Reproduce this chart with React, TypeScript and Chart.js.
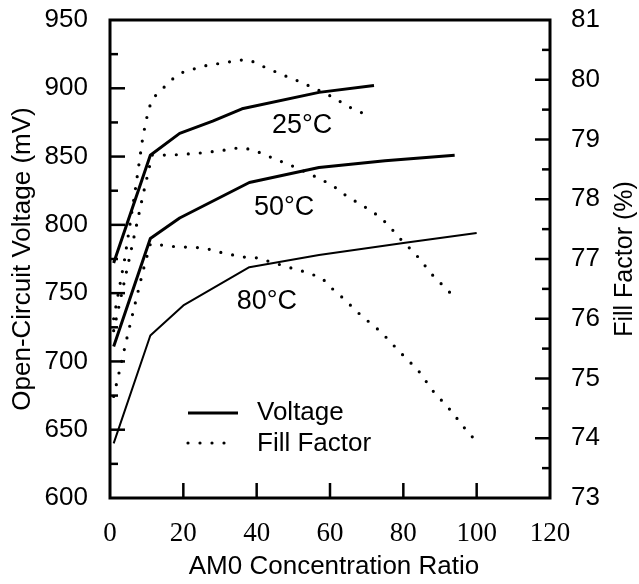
import { useEffect, useRef } from "react";
import { Chart, registerables } from "chart.js";

Chart.register(...registerables);

// ---- axis ranges ----
const X_MIN = 0, X_MAX = 120, X_STEP = 20;
const V_MIN = 600, V_MAX = 950, V_STEP = 50, V_MINOR = 25;
const FF_MIN = 73, FF_MAX = 81, FF_STEP = 1, FF_MINOR = 0.5;

// ---- titles / labels ----
const X_TITLE = "AM0 Concentration Ratio";
const V_TITLE = "Open-Circuit Voltage (mV)";
const FF_TITLE = "Fill Factor (%)";
const LEGEND_LABELS = ["Voltage", "Fill Factor"];
const TEMP_LABELS = ["25°C", "50°C", "80°C"];
const TEMP_LABEL_X = [52.4, 47.5, 42.8];
const TEMP_LABEL_V = [873, 813, 743.5];

// ---- Open-circuit voltage (mV) ----
const V25_X = [1, 11, 19, 28, 36, 57, 72];
const V25_Y = [772, 851, 867, 876, 885, 897, 902];
const V50_X = [1, 11, 19, 38, 57, 75, 94];
const V50_Y = [711, 790, 805, 831, 842, 847, 851];
const V80_X = [1, 11, 20, 38, 57, 81, 100];
const V80_Y = [640, 719, 741, 769, 778, 787, 794];

// ---- Fill factor (%) ----
const F25_X = [1, 4, 7, 9, 10.5, 11.7, 14.5, 17, 20, 24, 27, 31, 35, 38, 41.5, 44.5, 48, 51.3, 56, 61.4, 64.6, 67.6, 71];
const F25_Y = [76.0, 77.0, 78.2, 79.06, 79.5, 79.69, 79.86, 80.01, 80.13, 80.2, 80.25, 80.28, 80.33, 80.33, 80.23, 80.15, 80.06, 79.98, 79.85, 79.69, 79.56, 79.48, 79.38];
const F50_X = [1, 5, 9, 11.5, 17, 24, 30, 35, 38, 41.8, 45, 48.5, 51.8, 58.3, 61.6, 64.6, 70.9, 73.9, 76.6, 78.5, 83.5, 88, 93.3];
const F50_Y = [75.8, 76.93, 78.07, 78.74, 78.74, 78.77, 78.81, 78.86, 78.84, 78.76, 78.67, 78.59, 78.5, 78.31, 78.19, 78.05, 77.82, 77.69, 77.52, 77.38, 77.07, 76.73, 76.4];
const F80_X = [1, 5, 9, 11, 14.5, 18.5, 22.3, 26, 29.5, 33.3, 36.8, 40, 45, 50.5, 54, 57.8, 60.5, 63.3, 68.4, 73.9, 78.8, 84, 88.1, 93, 97.6, 100.4];
const F80_Y = [74.7, 75.78, 76.8, 77.25, 77.23, 77.2, 77.2, 77.18, 77.12, 77.07, 77.03, 77.02, 76.93, 76.83, 76.77, 76.68, 76.51, 76.36, 76.06, 75.78, 75.46, 75.14, 74.79, 74.46, 74.1, 73.92];

const SANS = "'Liberation Sans', Arial, sans-serif";
const SERIF = "'Liberation Serif', 'Times New Roman', serif";
const DOT_DASH = [0, 12];

const pts = (xs: number[], ys: number[]) => xs.map((x, i) => ({ x, y: ys[i] }));

const solid = (label: string, xs: number[], ys: number[], w: number) => ({
  label,
  data: pts(xs, ys),
  yAxisID: "y",
  borderColor: "#000",
  borderWidth: w,
  borderJoinStyle: "round" as const,
  pointRadius: 0,
  fill: false,
  tension: 0,
});

const dotted = (label: string, xs: number[], ys: number[]) => ({
  label,
  data: pts(xs, ys),
  yAxisID: "y2",
  borderColor: "#000",
  borderWidth: 3.2,
  borderDash: DOT_DASH,
  borderCapStyle: "round" as const,
  pointRadius: 0,
  fill: false,
  tension: 0,
});

const overlay = {
  id: "overlay",
  afterDatasetsDraw(chart: any) {
    const { ctx, chartArea: a, scales } = chart;
    const xs = scales.x, ys = scales.y, y2 = scales.y2;
    ctx.save();
    ctx.strokeStyle = "#000";
    ctx.fillStyle = "#000";
    ctx.setLineDash([]);
    // frame
    ctx.lineWidth = 3;
    ctx.strokeRect(a.left, a.top, a.right - a.left, a.bottom - a.top);
    // inward ticks
    ctx.lineWidth = 2.5;
    const seg = (x1: number, y1: number, x2: number, y2_: number) => {
      ctx.beginPath(); ctx.moveTo(x1, y1); ctx.lineTo(x2, y2_); ctx.stroke();
    };
    for (let v = V_MIN + V_MINOR; v < V_MAX; v += V_MINOR) {
      const py = ys.getPixelForValue(v);
      seg(a.left, py, a.left + (v % V_STEP === 0 ? 15 : 8), py);
    }
    for (let f = FF_MIN + FF_MINOR; f < FF_MAX - 1e-9; f += FF_MINOR) {
      const py = y2.getPixelForValue(f);
      const major = Math.abs(f - Math.round(f)) < 1e-6;
      seg(a.right, py, a.right - (major ? 15 : 8), py);
    }
    for (let x = X_MIN + X_STEP; x < X_MAX; x += X_STEP) {
      const px = xs.getPixelForValue(x);
      seg(px, a.bottom, px, a.bottom - 15);
    }
    // temperature labels
    ctx.font = `27px ${SANS}`;
    ctx.textAlign = "center";
    ctx.textBaseline = "middle";
    TEMP_LABELS.forEach((t, i) => {
      ctx.fillText(t, xs.getPixelForValue(TEMP_LABEL_X[i]), ys.getPixelForValue(TEMP_LABEL_V[i]));
    });
    // legend
    const lx = a.left + 78, ly = a.bottom - 85;
    ctx.lineWidth = 3;
    seg(lx, ly, lx + 50, ly);
    ctx.setLineDash(DOT_DASH);
    ctx.lineCap = "round";
    ctx.lineWidth = 3.2;
    seg(lx, ly + 30, lx + 46, ly + 30);
    ctx.setLineDash([]);
    ctx.lineCap = "butt";
    ctx.font = `26px ${SANS}`;
    ctx.textAlign = "left";
    ctx.fillText(LEGEND_LABELS[0], lx + 69, ly);
    ctx.fillText(LEGEND_LABELS[1], lx + 69, ly + 31);
    // axis titles
    const cy = (a.top + a.bottom) / 2;
    const cx = (a.left + a.right) / 2;
    ctx.font = `26px ${SANS}`;
    ctx.textAlign = "center";
    ctx.save();
    ctx.translate(23, cy);
    ctx.rotate(-Math.PI / 2);
    ctx.fillText(V_TITLE, 0, 0);
    ctx.restore();
    ctx.save();
    ctx.translate(625, cy);
    ctx.rotate(-Math.PI / 2);
    ctx.font = `25px ${SANS}`;
    ctx.fillText(FF_TITLE, 0, 0);
    ctx.restore();
    ctx.fillText(X_TITLE, cx + 4, 567);
    ctx.restore();
  },
};

const fitVertical = (w: number) => (s: any) => {
  s.width = w;
  s.paddingTop = 0;
  s.paddingBottom = 0;
};

export default function App() {
  const ref = useRef<HTMLCanvasElement | null>(null);
  useEffect(() => {
    if (!ref.current) return;
    const chart = new Chart(ref.current, {
      type: "line",
      data: {
        datasets: [
          solid("Voltage 25°C", V25_X, V25_Y, 3),
          solid("Voltage 50°C", V50_X, V50_Y, 3),
          solid("Voltage 80°C", V80_X, V80_Y, 2),
          dotted("Fill Factor 25°C", F25_X, F25_Y),
          dotted("Fill Factor 50°C", F50_X, F50_Y),
          dotted("Fill Factor 80°C", F80_X, F80_Y),
        ],
      },
      options: {
        responsive: false,
        animation: false,
        layout: { padding: { top: 20, left: 0, right: 0, bottom: 0 } },
        plugins: { legend: { display: false }, tooltip: { enabled: false } },
        scales: {
          x: {
            type: "linear",
            min: X_MIN,
            max: X_MAX,
            grid: { display: false, drawTicks: false },
            border: { display: false },
            ticks: { stepSize: X_STEP, padding: 20, color: "#000", font: { family: SERIF, size: 27 } },
            afterFit: (s: any) => { s.height = 86; s.paddingLeft = 0; s.paddingRight = 0; },
          },
          y: {
            type: "linear",
            position: "left",
            min: V_MIN,
            max: V_MAX,
            grid: { display: false, drawTicks: false },
            border: { display: false },
            ticks: { stepSize: V_STEP, padding: 22, color: "#000", font: { family: SANS, size: 26 } },
            afterFit: fitVertical(110),
          },
          y2: {
            type: "linear",
            position: "right",
            min: FF_MIN,
            max: FF_MAX,
            grid: { display: false, drawTicks: false },
            border: { display: false },
            ticks: { stepSize: FF_STEP, padding: 21, color: "#000", font: { family: SANS, size: 26 } },
            afterFit: fitVertical(89),
          },
        },
      },
      plugins: [overlay],
    });
    return () => chart.destroy();
  }, []);
  return (
    <div style={{ position: "absolute", left: 0, top: 0, width: 639, height: 584, background: "#fff" }}>
      <canvas ref={ref} width={639} height={584} style={{ display: "block" }} />
    </div>
  );
}
